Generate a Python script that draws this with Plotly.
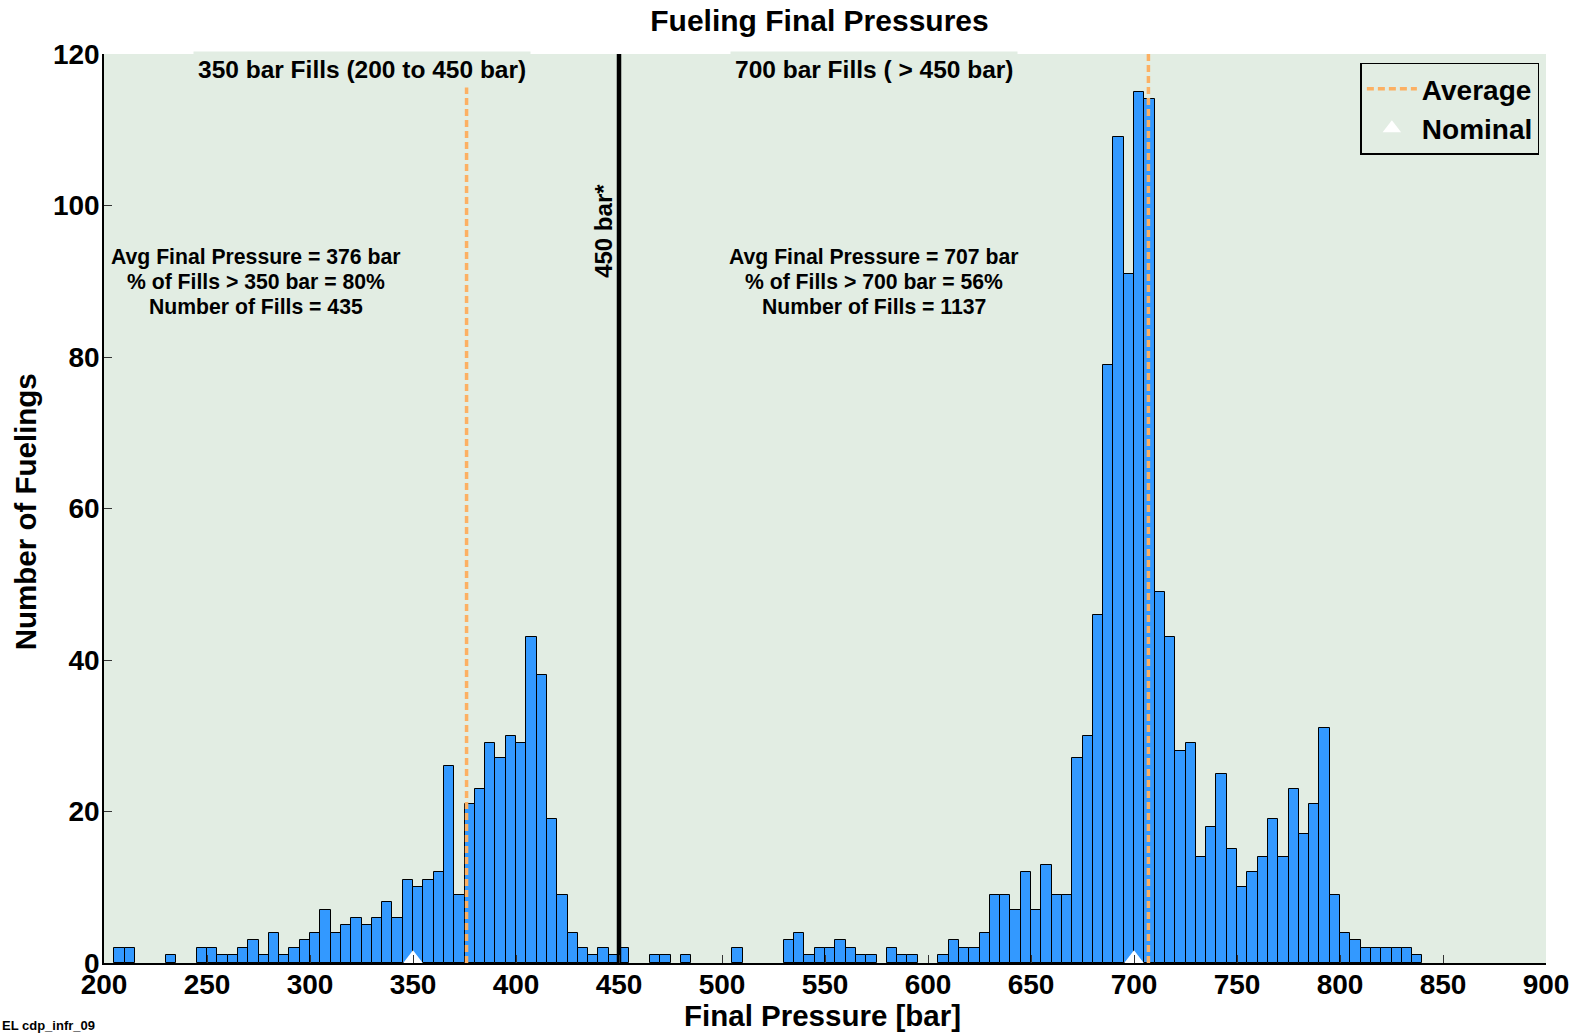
import plotly.graph_objects as go

# histogram bins (5 bar wide), left edge of each non-empty bin and its count
bin_start_350 = [205, 210, 230, 245, 250, 255, 260, 265, 270, 275,
                 280, 285, 290, 295, 300, 305, 310, 315, 320, 325,
                 330, 335, 340, 345, 350, 355, 360, 365, 370, 375,
                 380, 385, 390, 395, 400, 405, 410, 415, 420, 425,
                 430, 435, 440, 445]
counts_350 = [2, 2, 1, 2, 2, 1, 1, 2, 3, 1,
              4, 1, 2, 3, 4, 7, 4, 5, 6, 5,
              6, 8, 6, 11, 10, 11, 12, 26, 9, 21,
              23, 29, 27, 30, 29, 43, 38, 19, 9, 4,
              2, 1, 2, 1]

bin_start_700 = [450, 465, 470, 480, 505, 530, 535, 540, 545, 550,
                 555, 560, 565, 570, 580, 585, 590, 605, 610, 615,
                 620, 625, 630, 635, 640, 645, 650, 655, 660, 665,
                 670, 675, 680, 685, 690, 695, 700, 705, 710, 715,
                 720, 725, 730, 735, 740, 745, 750, 755, 760, 765,
                 770, 775, 780, 785, 790, 795, 800, 805, 810, 815,
                 820, 825, 830, 835]
counts_700 = [2, 1, 1, 1, 2, 3, 4, 1, 2, 2,
              3, 2, 1, 1, 2, 1, 1, 1, 3, 2,
              2, 4, 9, 9, 7, 12, 7, 13, 9, 9,
              27, 30, 46, 79, 109, 91, 115, 114, 49, 43,
              28, 29, 14, 18, 25, 15, 10, 12, 14, 19,
              14, 23, 17, 21, 31, 9, 4, 3, 2, 2,
              2, 2, 2, 1]
bin_width = 5

avg_pressure = [376, 707]
nominal_pressure = [350, 700]
split_pressure = 450

stats_350 = ["Avg Final Pressure = 376 bar", "% of Fills > 350 bar = 80%", "Number of Fills = 435"]
stats_700 = ["Avg Final Pressure = 707 bar", "% of Fills > 700 bar = 56%", "Number of Fills = 1137"]

x_ticks = list(range(200, 901, 50))
y_ticks = list(range(0, 121, 20))

FONT = "Liberation Sans, Arial, sans-serif"
BG = "#E2EDE3"
BAR = "#3399FF"
ORANGE = "#FCB063"

starts = bin_start_350 + bin_start_700
counts = counts_350 + counts_700

fig = go.Figure()

fig.add_trace(go.Bar(
    x=[s + bin_width / 2 for s in starts], y=counts, width=bin_width,
    marker=dict(color=BAR, line=dict(color="black", width=1)),
    showlegend=False, hoverinfo="x+y"
))

# 450 bar split line
fig.add_trace(go.Scatter(
    x=[split_pressure, split_pressure], y=[0, 120], mode="lines",
    line=dict(color="black", width=4.5), showlegend=False
))

# average lines
avg_x, avg_y = [], []
for a in avg_pressure:
    avg_x += [a, a, None]
    avg_y += [0, 120, None]
fig.add_trace(go.Scatter(
    x=avg_x, y=avg_y, mode="lines", name="Average",
    line=dict(color=ORANGE, width=3.5, dash="7px,4px")
))

# nominal markers sitting on the axis
fig.add_trace(go.Scatter(
    x=nominal_pressure, y=[0.55] * len(nominal_pressure), mode="markers",
    name="Nominal", cliponaxis=False,
    marker=dict(symbol="triangle-up", size=17, color="white", line=dict(width=0))
))

bold = dict(family=FONT, color="black", weight="bold")

# section headers (boxed so they hide the top of the average line)
for x, txt in [(325, "350 bar Fills (200 to 450 bar)"), (574, "700 bar Fills ( > 450 bar)")]:
    fig.add_annotation(
        x=x, y=118, xref="x", yref="y", text=txt, showarrow=False,
        font=dict(bold, size=24.5), bgcolor=BG, borderpad=4
    )

# stats blocks, one line per annotation
for x, lines in [(274, stats_350), (574, stats_700)]:
    for i, line in enumerate(lines):
        fig.add_annotation(
            x=x, y=93.2 - i * 3.24, xref="x", yref="y", text=line, showarrow=False,
            font=dict(bold, size=21.2)
        )

fig.add_annotation(
    x=442.4, y=96.7, xref="x", yref="y", text="450 bar*", textangle=-90,
    showarrow=False, font=dict(bold, size=24)
)

# axis titles
fig.add_annotation(
    x=0.498, y=-0.0578, xref="paper", yref="paper", text="Final Pressure [bar]",
    xanchor="center", yanchor="middle", showarrow=False, font=dict(bold, size=29.5)
)
fig.add_annotation(
    x=-0.0548, y=0.497, xref="paper", yref="paper", text="Number of Fuelings",
    textangle=-90, xanchor="center", yanchor="middle", showarrow=False,
    font=dict(bold, size=29.5)
)

fig.add_annotation(
    x=-0.0721, y=-0.0688, xref="paper", yref="paper", text="EL cdp_infr_09",
    xanchor="left", yanchor="middle", showarrow=False, font=dict(bold, size=13)
)

fig.update_layout(
    width=1582, height=1033,
    margin=dict(l=104, r=36, t=54, b=70),
    paper_bgcolor="white", plot_bgcolor=BG,
    font=dict(bold, size=28),
    title=dict(text="Fueling Final Pressures", x=0.518, xanchor="center",
               y=1 - 20 / 1033, yanchor="middle", font=dict(bold, size=30)),
    bargap=0,
    legend=dict(
        x=0.9954, y=0.9906, xanchor="right", yanchor="top",
        bgcolor="rgba(0,0,0,0)", bordercolor="black", borderwidth=1.5,
        font=dict(bold, size=28), itemwidth=50, tracegroupgap=0
    ),
)

fig.update_xaxes(
    range=[200, 900], tickvals=x_ticks, ticks="inside", ticklen=8, tickwidth=1.2,
    tickcolor="#333333", showline=True, linecolor="black", linewidth=1.5,
    showgrid=False, zeroline=False, tickfont=dict(bold, size=28), automargin=False,
    ticklabelstandoff=-4
)
fig.update_yaxes(
    range=[0, 120], tickvals=y_ticks, ticks="inside", ticklen=8, tickwidth=1.2,
    tickcolor="#333333", showline=True, linecolor="black", linewidth=1.5,
    showgrid=False, zeroline=False, tickfont=dict(bold, size=28), automargin=False,
    ticklabelstandoff=-3
)

# drop the default page margin so the figure fills the window exactly
fig.write_html("out.html", config={"displayModeBar": False},
               post_script="document.body.style.margin = '0px';")
